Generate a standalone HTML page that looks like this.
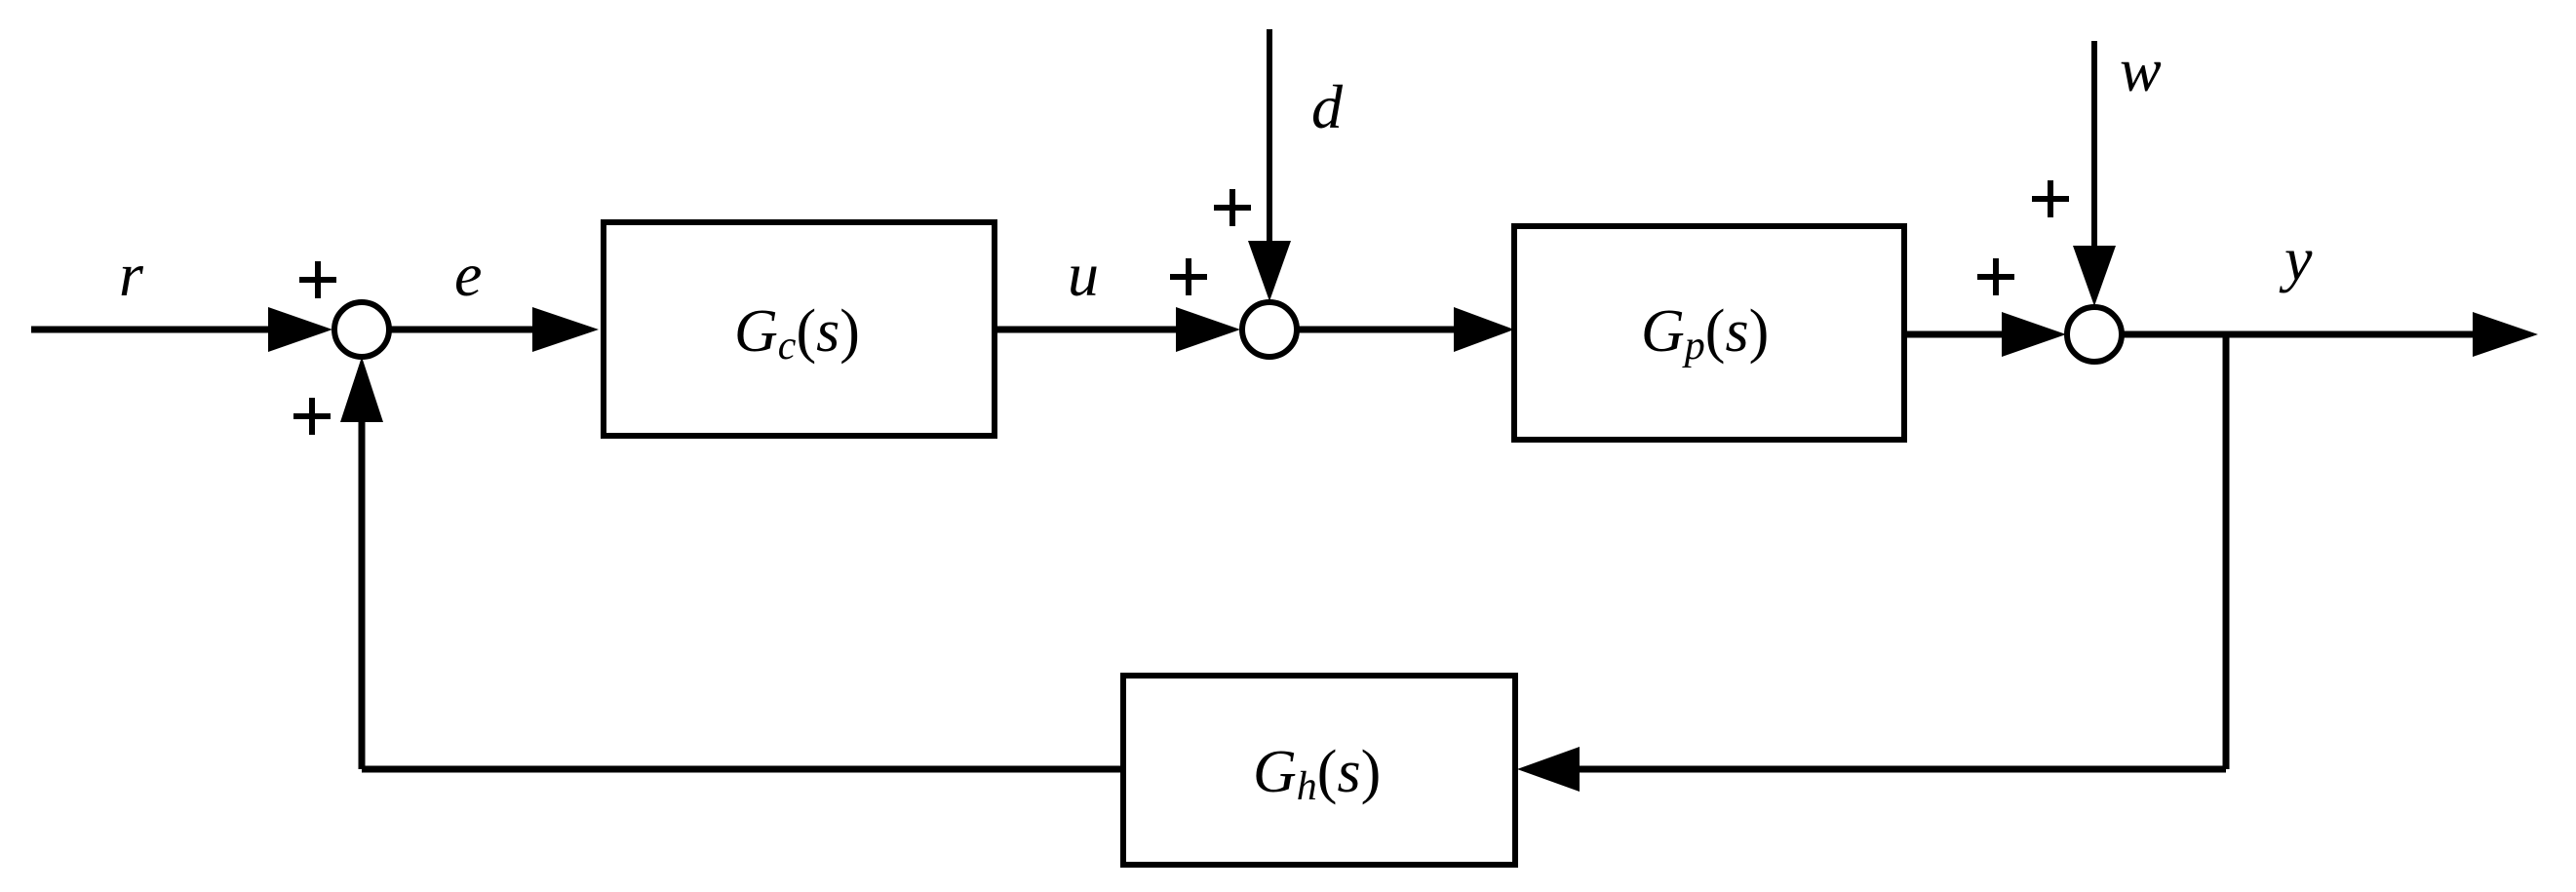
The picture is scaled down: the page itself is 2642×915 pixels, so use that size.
<!DOCTYPE html>
<html><head><meta charset="utf-8"><style>
html,body{margin:0;padding:0;background:#fff;}
svg{display:block;}
</style></head><body>
<svg width="2642" height="915" viewBox="0 0 2642 915" xmlns="http://www.w3.org/2000/svg">
<g stroke="#000" stroke-width="7" fill="none">
  <line x1="32" y1="338" x2="280" y2="338"/>
  <line x1="400" y1="338" x2="550" y2="338"/>
  <line x1="1020" y1="338" x2="1210" y2="338"/>
  <line x1="1330" y1="338" x2="1495" y2="338"/>
  <line x1="1954" y1="343" x2="2055" y2="343"/>
  <line x1="2177" y1="343" x2="2540" y2="343"/>
  <line x1="2283" y1="343" x2="2283" y2="789"/>
  <line x1="2283" y1="789" x2="1615" y2="789"/>
  <line x1="1152" y1="789" x2="371" y2="789"/>
  <line x1="371" y1="789" x2="371" y2="430"/>
  <line x1="1302" y1="30" x2="1302" y2="250" stroke-width="6"/>
  <line x1="2148" y1="42" x2="2148" y2="255" stroke-width="6"/>
</g>
<g stroke="#000" stroke-width="6" fill="#fff">
  <rect x="619" y="228" width="401" height="219"/>
  <rect x="1553" y="232" width="400" height="219"/>
  <rect x="1152" y="693" width="402" height="194"/>
  <circle cx="371" cy="338" r="28"/>
  <circle cx="1302" cy="338" r="28"/>
  <circle cx="2148" cy="343" r="28"/>
</g>
<g fill="#000">
  <polygon points="275,315 341,338 275,361"/>
  <polygon points="546,315 614,338 546,361"/>
  <polygon points="1206,315 1272,338 1206,361"/>
  <polygon points="1491,315 1553,338 1491,361"/>
  <polygon points="2053,320 2119,343 2053,366"/>
  <polygon points="2536,320 2603,343 2536,366"/>
  <polygon points="1620,766 1556,789 1620,812"/>
  <polygon points="349,433 371,366 393,433"/>
  <polygon points="1280,247 1302,309 1324,247"/>
  <polygon points="2126,252 2148,314 2170,252"/>
</g>
<g stroke="#000" stroke-width="6">
  <line x1="307" y1="287" x2="345" y2="287"/><line x1="326" y1="268" x2="326" y2="306"/>
  <line x1="301" y1="427" x2="339" y2="427"/><line x1="320" y1="408" x2="320" y2="446"/>
  <line x1="1200" y1="284" x2="1238" y2="284"/><line x1="1219" y1="265" x2="1219" y2="303"/>
  <line x1="1245" y1="213" x2="1283" y2="213"/><line x1="1264" y1="194" x2="1264" y2="232"/>
  <line x1="2028" y1="284" x2="2066" y2="284"/><line x1="2047" y1="265" x2="2047" y2="303"/>
  <line x1="2084" y1="204" x2="2122" y2="204"/><line x1="2103" y1="185" x2="2103" y2="223"/>
</g>
<g font-family="Liberation Serif, Times New Roman, serif" font-size="64" font-style="italic" fill="#000">
  <text x="122" y="303">r</text>
  <text x="466" y="303">e</text>
  <text x="1095" y="303">u</text>
  <text x="1345" y="131">d</text>
  <text x="2174" y="93">w</text>
  <text x="2343" y="287">y</text>
</g>
<g font-family="Liberation Serif, Times New Roman, serif" font-size="62" fill="#000">
  <text x="753" y="360"><tspan font-style="italic">G</tspan><tspan font-style="italic" font-size="42" dy="8">c</tspan><tspan dy="-8">(</tspan><tspan font-style="italic">s</tspan>)</text>
  <text x="1683" y="360"><tspan font-style="italic">G</tspan><tspan font-style="italic" font-size="42" dy="8">p</tspan><tspan dy="-8">(</tspan><tspan font-style="italic">s</tspan>)</text>
  <text x="1285" y="812"><tspan font-style="italic">G</tspan><tspan font-style="italic" font-size="42" dy="8">h</tspan><tspan dy="-8">(</tspan><tspan font-style="italic">s</tspan>)</text>
</g>
</svg>
</body></html>
